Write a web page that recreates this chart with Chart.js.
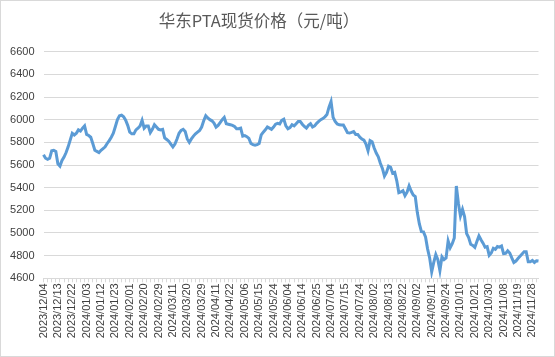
<!DOCTYPE html>
<html>
<head>
<meta charset="utf-8">
<script src="https://cdn.jsdelivr.net/npm/chart.js@4/dist/chart.umd.min.js"></script>
<style>
html,body{margin:0;padding:0;background:#fff;}
#wrap{width:555px;height:357px;position:relative;}
canvas{display:block;}
</style>
</head>
<body>
<div id="wrap"><canvas id="c" width="555" height="357"></canvas></div>
<script>
// Chart title
const chartTitle = '华东PTA现货价格（元/吨）';

// Dates shown on the x axis (every 7th trading day)
const tickLabels = [
  '2023/12/04','2023/12/13','2023/12/22','2024/01/03','2024/01/12','2024/01/23','2024/02/01',
  '2024/02/20','2024/02/29','2024/03/11','2024/03/20','2024/03/29','2024/04/11','2024/04/22',
  '2024/05/06','2024/05/15','2024/05/24','2024/06/04','2024/06/14','2024/06/25','2024/07/04',
  '2024/07/15','2024/07/24','2024/08/02','2024/08/13','2024/08/22','2024/09/02','2024/09/11',
  '2024/09/24','2024/10/10','2024/10/21','2024/10/30','2024/11/08','2024/11/19','2024/11/28'
];
const labelStep = 7;

// Daily spot price (yuan/ton)
const prices = [
  5690,5660,5650,5660,5725,5730,5720,5610,5590,5640,
  5670,5710,5760,5820,5880,5865,5880,5910,5900,5925,
  5945,5870,5860,5845,5790,5730,5720,5710,5730,5745,
  5760,5790,5815,5845,5880,5940,6000,6035,6040,6025,
  5995,5950,5890,5875,5875,5910,5925,5945,5995,5925,
  5945,5945,5885,5915,5955,5935,5915,5910,5915,5840,
  5825,5810,5785,5760,5785,5830,5880,5905,5915,5895,
  5830,5800,5830,5855,5875,5890,5905,5935,5990,6035,
  6015,6000,5990,5970,5935,5950,5975,6000,6020,5965,
  5960,5955,5950,5940,5920,5920,5925,5855,5860,5850,
  5835,5790,5780,5775,5780,5790,5865,5890,5910,5935,
  5925,5915,5935,5960,5968,5962,5995,6005,5945,5920,
  5930,5955,5945,5965,5985,5985,5960,5940,5925,5950,
  5965,5935,5945,5968,5985,6000,6010,6025,6045,6110,
  6160,6020,5985,5962,5955,5953,5953,5920,5885,5882,
  5888,5895,5870,5870,5845,5830,5820,5785,5726,5815,
  5805,5750,5705,5673,5615,5570,5503,5535,5590,5580,
  5527,5535,5460,5355,5362,5373,5330,5360,5415,5370,
  5335,5322,5180,5080,5012,5010,4965,4860,4780,4657,
  4740,4810,4765,4668,4790,4765,4780,4930,4870,4905,
  4955,5415,5262,5150,5209,5144,4995,4960,4900,4890,
  4873,4925,4974,4940,4910,4875,4880,4803,4823,4865,
  4855,4880,4875,4885,4818,4820,4842,4823,4780,4740,
  4752,4775,4795,4815,4835,4835,4745,4745,4758,4740,
  4755,4752
];

// Y axis range
const yMin = 4600, yMax = 6600, yStep = 200;

const categories = prices.map((_, i) => (i % labelStep === 0 && tickLabels[i / labelStep]) ? tickLabels[i / labelStep] : '');

const frame = {
  id: 'frame',
  beforeDraw(chart) {
    const ctx = chart.ctx;
    ctx.save();
    ctx.fillStyle = '#ffffff';
    ctx.fillRect(0, 0, chart.width, chart.height);
    ctx.restore();
  },
  afterDraw(chart) {
    const ctx = chart.ctx;
    ctx.save();
    ctx.strokeStyle = '#d9d9d9';
    ctx.lineWidth = 1;
    ctx.strokeRect(0.5, 0.5, chart.width - 1, chart.height - 1);
    ctx.fillStyle = '#595959';
    ctx.font = '16.5px "Noto Sans CJK SC", sans-serif';
    ctx.textAlign = 'center';
    ctx.textBaseline = 'middle';
    ctx.fillText(chartTitle, 259, 21);
    ctx.restore();
  }
};

new Chart(document.getElementById('c'), {
  type: 'line',
  data: {
    labels: categories,
    datasets: [{
      data: prices,
      borderColor: '#5b9bd5',
      borderWidth: 3,
      pointRadius: 0,
      tension: 0,
      fill: false
    }]
  },
  options: {
    responsive: false,
    animation: false,
    devicePixelRatio: 1,
    layout: { padding: { left: 0, right: 16.5, top: 51.7, bottom: 0 } },
    plugins: { legend: { display: false }, title: { display: false }, tooltip: { enabled: false } },
    scales: {
      x: {
        offset: false,
        grid: {
          drawOnChartArea: false,
          tickLength: 4,
          color: (c) => (c.index % 2 === 0 ? '#d9d9d9' : 'rgba(0,0,0,0)')
        },
        border: { display: true, color: '#d9d9d9' },
        ticks: {
          autoSkip: false,
          maxRotation: 90,
          minRotation: 90,
          padding: 1,
          color: '#404040',
          font: { family: '"Liberation Sans", Arial, sans-serif', size: 11 }
        },
        afterFit(scale) { scale.height = 357 - 278.3; }
      },
      y: {
        min: yMin,
        max: yMax,
        grid: { color: '#d9d9d9', drawTicks: false },
        border: { display: false },
        ticks: {
          stepSize: yStep,
          padding: 9,
          color: '#404040',
          font: { family: '"Liberation Sans", Arial, sans-serif', size: 11 },
          callback: (v) => String(v)
        },
        afterFit(scale) { scale.width = 43.5; }
      }
    }
  },
  plugins: [frame]
});
</script>
</body>
</html>
